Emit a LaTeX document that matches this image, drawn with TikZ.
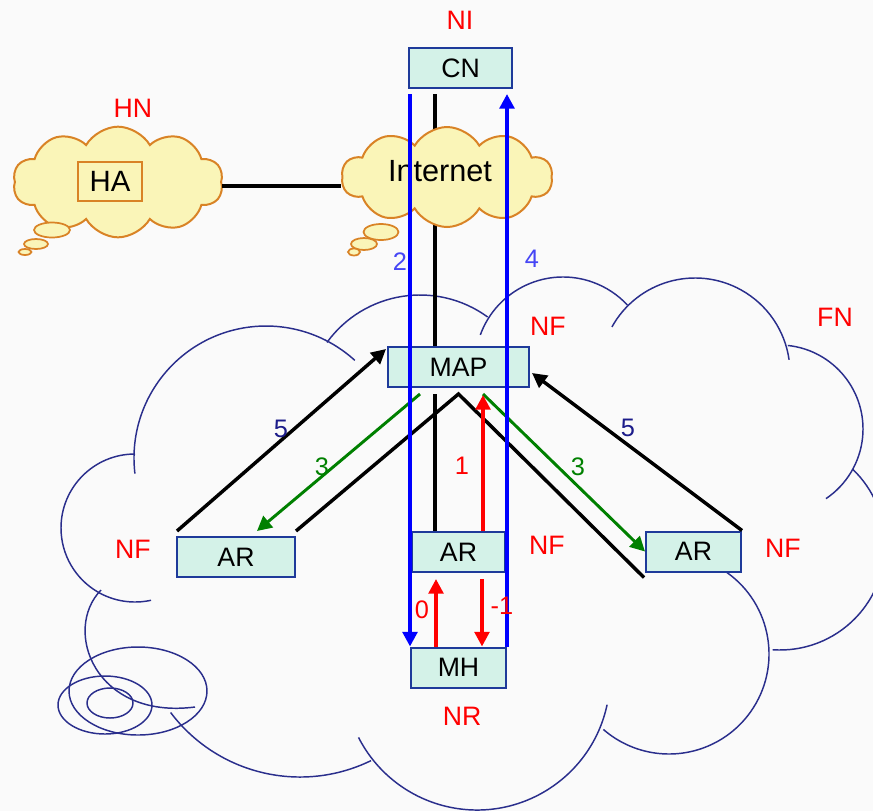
\documentclass[tikz,border=0pt]{standalone}
\usepackage{fontspec}
\setsansfont{Liberation Sans}
\usetikzlibrary{shapes.symbols,arrows.meta,calc}

\definecolor{pagebg}{HTML}{FAFAFA}
\definecolor{boxfill}{HTML}{D4F2E8}
\definecolor{boxline}{HTML}{1E3A9A}
\definecolor{fncolor}{HTML}{2A2E8C}
\definecolor{cloudfill}{HTML}{FAF5B8}
\definecolor{cloudline}{HTML}{D98326}
\definecolor{flowblue}{HTML}{0000FF}
\definecolor{lblblue}{HTML}{4545F5}
\definecolor{lblnavy}{HTML}{1C1C8A}
\definecolor{flowgreen}{HTML}{008000}
\definecolor{flowred}{HTML}{FF0000}

\begin{document}
\begin{tikzpicture}[x=0.75pt, y=-0.75pt, font=\sffamily,
    >={Triangle[length=11pt,width=11pt]},
    boxstyle/.style={draw=boxline, fill=boxfill, line width=1.5pt, minimum height=30pt,
        inner sep=0pt, font=\sffamily\fontsize{20}{22}\selectfont},
    cloudstyle/.style={cloud, draw=cloudline, fill=cloudfill, line width=1.5pt,
        cloud puffs=10, cloud puff arc=120, cloud ignores aspect, inner sep=0pt},
    bubble/.style={draw=cloudline, fill=cloudfill, line width=1.3pt},
    fnline/.style={draw=fncolor, line width=1.1pt},
    netlink/.style={draw=black, line width=2.6pt},
    blueflow/.style={draw=flowblue, line width=3pt},
    redflow/.style={draw=flowred, line width=2.6pt},
    greenflow/.style={draw=flowgreen, line width=2.2pt},
    tag/.style={text=red, font=\sffamily\fontsize{20}{22}\selectfont},
    num/.style={font=\sffamily\fontsize{19}{21}\selectfont}]

    \useasboundingbox (0,0) rectangle (873,811);
    \clip (0,0) rectangle (873,811);
    \fill[pagebg] (0,0) rectangle (873,811);

    % Foreign network cloud
    \draw[fnline] (266,458) ++(-186.8:132) arc[start angle=-186.8, end angle=-47.7, radius=132];
    \draw[fnline] (420,410) ++(-144:115) arc[start angle=-144, end angle=-54, radius=115];
    \draw[fnline] (563,365) ++(-160:88) arc[start angle=-160, end angle=-43, radius=88];
    \draw[fnline] (695,373) ++(-151:95) arc[start angle=-151, end angle=-8, radius=95];
    \draw[fnline] (779,429) ++(-84:84) arc[start angle=-84, end angle=56, radius=84];
    \draw[fnline] (780,545) ++(-46:105) arc[start angle=-46, end angle=94, radius=105];
    \draw[fnline] (669,654) ++(-54.6:100) arc[start angle=-54.6, end angle=131, radius=100];
    \draw[fnline] (477,677) ++(12:133) arc[start angle=12, end angle=153, radius=133];
    \draw[fnline] (300,615) ++(-217:162) arc[start angle=-217, end angle=-296, radius=162];
    \draw[fnline] (135,528) ++(-90:74) arc[start angle=-90, end angle=-282.5, radius=74];
    \draw[fnline] (101,590) .. controls (62,630) and (95,720) .. (195,707);
    \draw[fnline] (138,691) ellipse[x radius=69, y radius=44];
    \draw[fnline] (105,705) ellipse[x radius=47, y radius=29];
    \draw[fnline] (110,703) ellipse[x radius=23, y radius=15];

    % Boxes
    \node[boxstyle, minimum width=77.25pt] (cn) at (460.5,68) {CN};
    \node[boxstyle, minimum width=105.75pt] (map) at (458.5,367) {MAP};
    \node[boxstyle, minimum width=69.75pt] (arm) at (458.5,552) {AR};
    \node[boxstyle, minimum width=88.5pt] (arl) at (236,557) {AR};
    \node[boxstyle, minimum width=71.25pt] (arr) at (693.5,551.5) {AR};
    \node[boxstyle, minimum width=71.25pt] (mh) at (458.5,667.5) {MH};

    % Internet
    \draw[netlink] ($(cn.south)+(-25.5,5)$) -- ($(map.north)+(-23.5,0)$);
    \node[cloudstyle, minimum width=157.5pt, minimum height=83pt] (hacloud) at (118,182) {};
    \draw[bubble] (52,230) ellipse[x radius=18, y radius=7.5];
    \draw[bubble] (36,244) ellipse[x radius=12, y radius=5];
    \draw[bubble] (25,252) ellipse[x radius=6.5, y radius=3];
    \node[cloudstyle, minimum width=158pt, minimum height=75pt] (inetcloud) at (447,177) {};
    \draw[bubble] (381,232) ellipse[x radius=17.5, y radius=8];
    \draw[bubble] (364,244) ellipse[x radius=13, y radius=6];
    \draw[bubble] (354,252) ellipse[x radius=6, y radius=3.5];
    \node[font=\sffamily\fontsize{23}{25}\selectfont] (inettext) at (440,171) {Internet};
    \node[boxstyle, draw=cloudline, fill=cloudfill, minimum width=48pt, minimum height=29.25pt,
        font=\sffamily\fontsize{22}{24}\selectfont] (ha) at (110,181.5) {HA};
    \coordinate (halink) at ([yshift=-3pt]hacloud.east);
    \draw[netlink] (halink) -- (halink -| inetcloud.west);

    % Links inside FN
    \draw[netlink] ($(map.south)+(-23.5,6)$) -- ($(arm.north)+(-23.5,0)$);
    \draw[netlink] ($(arl.north east)+(0,-5)$) -- ($(map.south)+(0,6)$) -- ($(arr.south west)+(-1,5)$);
    \draw[netlink,->] ($(arl.north west)+(1,-5)$) -- ($(map.north west)+(-1,3)$);
    \draw[netlink,->] (arr.north east) -- ($(map.east)+(2,6)$);
    \draw[greenflow,->] ($(map.south)+(-38.5,6)$) -- ($(arl.north)+(21,-5)$);
    \draw[greenflow,->] ($(map.south)+(24.5,6)$) -- (arr.west);
    \draw[redflow,->] ($(arm.north)+(24.5,0)$) -- ($(map.south)+(24.5,7)$);
    \draw[redflow,->] ($(mh.north)+(-22.5,0)$) -- ($(arm.south)+(-22.5,6)$);
    \draw[redflow,->] ($(arm.south)+(23.5,6)$) -- ($(mh.north)+(23.5,0)$);
    \draw[blueflow,->] ($(cn.south)+(-50.5,5)$) -- ($(mh.north)+(-48.5,0)$);
    \draw[blueflow,->] ($(mh.north)+(48.5,0)$) -- ($(cn.south)+(46.5,5)$);

    % Labels
    \node[tag] (ni) at (460,20) {NI};
    \node[tag] (hn) at (133,108) {HN};
    \node[tag] (nfmap) at (548,326) {NF};
    \node[tag] (fn) at (835,317) {FN};
    \node[tag] (nfl) at (133,549) {NF};
    \node[tag] (nfm) at (547,545) {NF};
    \node[tag] (nfr) at (783,548) {NF};
    \node[tag] (nr) at (462,716) {NR};
    \node[num, text=lblblue] (n2) at (400,262) {2};
    \node[num, text=lblblue] (n4) at (532,259) {4};
    \node[num, text=lblnavy] (n5l) at (281,429) {5};
    \node[num, text=flowgreen] (n3l) at (322,467) {3};
    \node[num, text=flowred] (n1) at (462,466) {1};
    \node[num, text=lblnavy] (n5r) at (628,428) {5};
    \node[num, text=flowgreen] (n3r) at (578,467) {3};
    \node[num, text=flowred] (n0) at (422,610) {0};
    \node[num, text=flowred] (nm1) at (502,606) {-1};
\end{tikzpicture}
\end{document}
